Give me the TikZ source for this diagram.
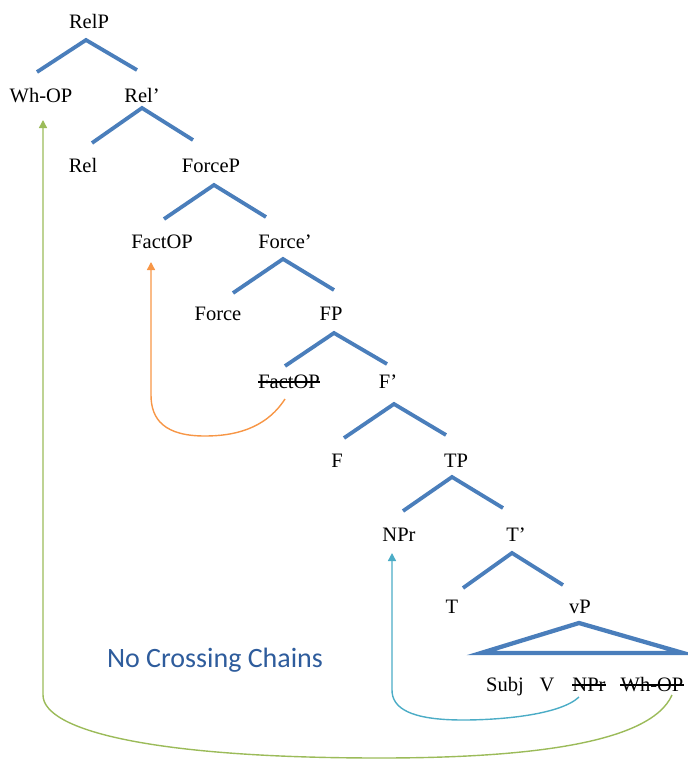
\documentclass[tikz,border=0pt]{standalone}
\usepackage{fontspec}
\setmainfont{Liberation Serif}
\newfontfamily\labelfont{Carlito}
\usetikzlibrary{arrows.meta}
\definecolor{branchblue}{HTML}{4A7EBB}
\definecolor{chaingreen}{HTML}{9BBB59}
\definecolor{chainorange}{HTML}{F79646}
\definecolor{chaincyan}{HTML}{4BACC6}
\definecolor{titleblue}{HTML}{2E5C9C}
\begin{document}
\begin{tikzpicture}[x=1pt,y=-1pt,
  cat/.style={anchor=base,inner sep=0pt,font=\fontsize{20.5}{24}\selectfont},
  branch/.style={draw=branchblue,line width=3.8pt},
  strike/.style={line width=1.1pt},
  chain/.style={line width=1.4pt,-{Triangle[width=8pt,length=8pt]}}]
\useasboundingbox (0,0) rectangle (688,766);

% category labels (placed at their baselines)
\node[cat] (relp)   at (89,28)   {RelP};
\node[cat] (whop)   at (41,102)  {Wh-OP};
\node[cat] (relbar) at (142,102) {Rel’};
\node[cat] (rel)    at (83,172)  {Rel};
\node[cat] (forcep) at (211,172) {ForceP};
\node[cat] (factop) at (162,248) {FactOP};
\node[cat] (forcebar) at (285,248) {Force’};
\node[cat] (force)  at (218,320) {Force};
\node[cat] (fp)     at (331,320) {FP};
\node[cat] (factoplow) at (289,388) {FactOP};
\node[cat] (fbar)   at (388,388) {F’};
\node[cat] (f)      at (337,467) {F};
\node[cat] (tp)     at (456,467) {TP};
\node[cat] (npr)    at (399,541) {NPr};
\node[cat] (tbar)   at (516,541) {T’};
\node[cat] (t)      at (452,613) {T};
\node[cat] (vp)     at (580,613) {vP};
\node[cat] (subj)   at (505,691) {Subj};
\node[cat] (v)      at (547,691) {V};
\node[cat] (nprlow) at (589,691) {NPr};
\node[cat] (whoplow) at (652,691) {Wh-OP};

\node[anchor=base,inner sep=0pt,text=titleblue,font=\labelfont\fontsize{28}{32}\selectfont]
  (title) at (215,667) {No Crossing Chains};

% branch points of the tree
\coordinate (a1) at (86,40);  \coordinate (l1) at (37,72);   \coordinate (r1) at (137,70);
\coordinate (a2) at (142,108);\coordinate (l2) at (92,143);  \coordinate (r2) at (193,140);
\coordinate (a3) at (214,185);\coordinate (l3) at (164,219); \coordinate (r3) at (266,217);
\coordinate (a4) at (283,259);\coordinate (l4) at (233,293); \coordinate (r4) at (334,290);
\coordinate (a5) at (334,333);\coordinate (l5) at (285,366); \coordinate (r5) at (387,364);
\coordinate (a6) at (394,404);\coordinate (l6) at (344,438); \coordinate (r6) at (446,435);
\coordinate (a7) at (452,477);\coordinate (l7) at (403,511); \coordinate (r7) at (503,508);
\coordinate (a8) at (512,553);\coordinate (l8) at (463,588); \coordinate (r8) at (563,585);

\foreach \i in {1,...,8}
  \draw[branch] (l\i) -- (a\i) -- (r\i);

% roofed vP
\coordinate (va) at (579,623); \coordinate (vl) at (481,653); \coordinate (vr) at (683,653);
\draw[branch,line width=4.3pt,line join=miter] (vl) -- (va) -- (vr) -- cycle;

% struck-out copies
\draw[strike] ([yshift=6pt]factoplow.base west) -- ([yshift=6pt]factoplow.base east);
\draw[strike] ([yshift=6pt]nprlow.base west) -- ([yshift=6pt]nprlow.base east);
\draw[strike] ([yshift=6pt]whoplow.base west) -- ([yshift=6pt]whoplow.base east);

% movement chains
\coordinate (o1) at (285,399); \coordinate (o2) at (151,262);
\draw[chain,draw=chainorange] (o1)
  .. controls (265,430) and (232,436) .. (205,436)
  .. controls (165,436) and (151,420) .. (151,395) -- (o2);

\coordinate (c1) at (579,697); \coordinate (c2) at (392,553);
\draw[chain,draw=chaincyan] (c1)
  .. controls (560,715) and (500,720) .. (463,720)
  .. controls (410,720) and (392,708) .. (392,690) -- (c2);

\coordinate (g1) at (672,695); \coordinate (g2) at (43,120);
\draw[chain,draw=chaingreen] (g1)
  .. controls (650,745) and (520,758) .. (380,758)
  .. controls (150,758) and (43,730) .. (43,695) -- (g2);
\end{tikzpicture}
\end{document}
